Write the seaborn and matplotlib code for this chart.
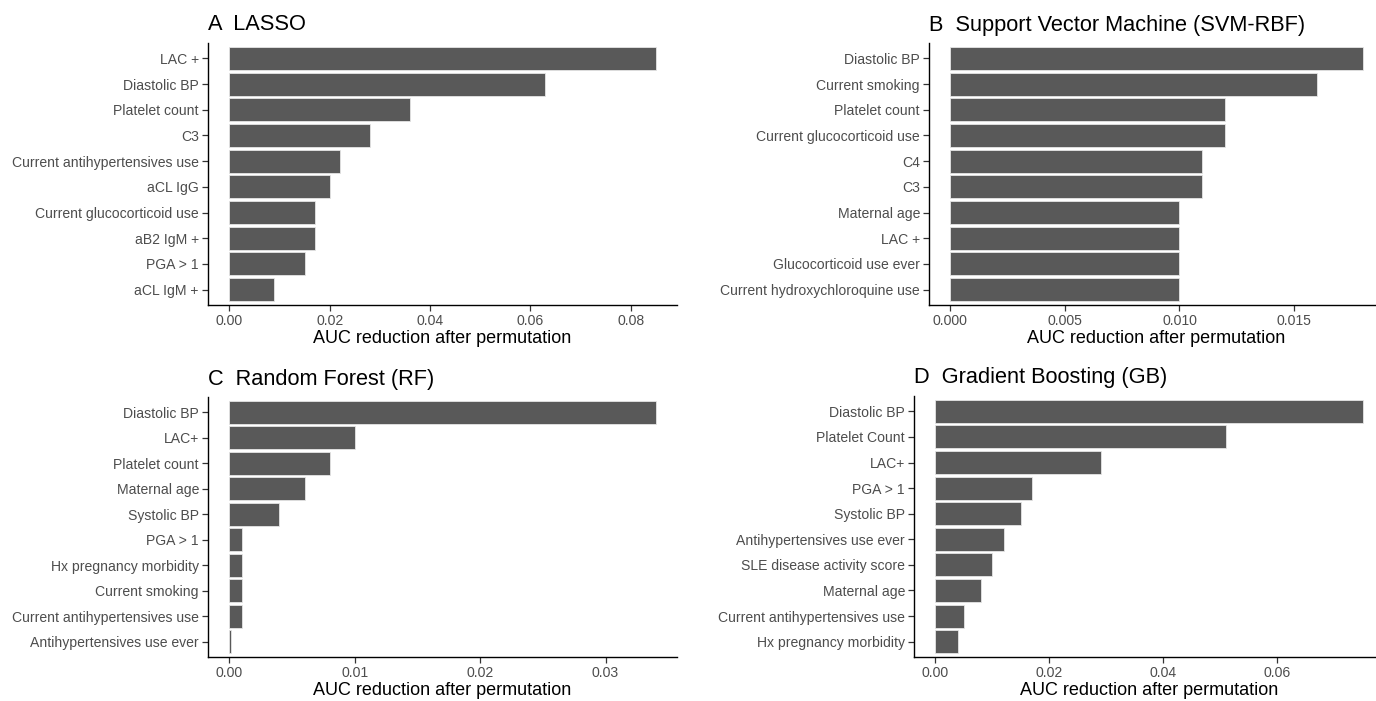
import matplotlib
matplotlib.use("Agg")
import matplotlib.pyplot as plt
import seaborn as sns
import pandas as pd
from matplotlib.ticker import FormatStrFormatter

# ---- data ----
lasso_features = ["LAC +", "Diastolic BP", "Platelet count", "C3",
                  "Current antihypertensives use", "aCL IgG",
                  "Current glucocorticoid use", "aB2 IgM +", "PGA > 1", "aCL IgM +"]
lasso_values = [0.085, 0.063, 0.036, 0.028, 0.022, 0.020, 0.017, 0.017, 0.015, 0.009]

svm_features = ["Diastolic BP", "Current smoking", "Platelet count",
                "Current glucocorticoid use", "C4", "C3", "Maternal age", "LAC +",
                "Glucocorticoid use ever", "Current hydroxychloroquine use"]
svm_values = [0.018, 0.016, 0.012, 0.012, 0.011, 0.011, 0.010, 0.010, 0.010, 0.010]

rf_features = ["Diastolic BP", "LAC+", "Platelet count", "Maternal age", "Systolic BP",
               "PGA > 1", "Hx pregnancy morbidity", "Current smoking",
               "Current antihypertensives use", "Antihypertensives use ever"]
rf_values = [0.034, 0.010, 0.008, 0.006, 0.004, 0.001, 0.001, 0.001, 0.001, 0.0001]

gb_features = ["Diastolic BP", "Platelet Count", "LAC+", "PGA > 1", "Systolic BP",
               "Antihypertensives use ever", "SLE disease activity score",
               "Maternal age", "Current antihypertensives use", "Hx pregnancy morbidity"]
gb_values = [0.075, 0.051, 0.029, 0.017, 0.015, 0.012, 0.010, 0.008, 0.005, 0.004]

titles = ["A  LASSO", "B  Support Vector Machine (SVM-RBF)",
          "C  Random Forest (RF)", "D  Gradient Boosting (GB)"]
xticks_list = [[0, 0.02, 0.04, 0.06, 0.08], [0, 0.005, 0.010, 0.015],
               [0, 0.01, 0.02, 0.03], [0, 0.02, 0.04, 0.06]]
fmts = ["%.2f", "%.3f", "%.2f", "%.2f"]
xlabel = "AUC reduction after permutation"

# ---- style ----
sns.set_theme(style="ticks")
plt.rcParams["font.family"] = ["Liberation Sans", "DejaVu Sans"]

W, H = 1376, 701
fig = plt.figure(figsize=(W / 100, H / 100), dpi=100)

# axes boxes in pixels: left, right, top, bottom
boxes = [(208, 677, 43, 305), (929, 1384, 43, 305),
         (208, 677, 397, 657), (914, 1384, 396, 657)]

datasets = [(lasso_features, lasso_values), (svm_features, svm_values),
            (rf_features, rf_values), (gb_features, gb_values)]

for (feats, vals), (l, r, t, b), title, xt, fmt in zip(datasets, boxes, titles, xticks_list, fmts):
    ax = fig.add_axes([l / W, (H - b) / H, (r - l) / W, (b - t) / H])
    df = pd.DataFrame({"feature": feats, "value": vals})
    sns.barplot(data=df, x="value", y="feature", orient="h", color="#595959",
                saturation=1, width=0.9, edgecolor="#E5E5E5", linewidth=0.6, ax=ax)
    vmax = max(vals)
    ax.set_xlim(-0.05 * vmax, 1.05 * vmax)
    ax.set_ylim(len(feats) - 0.4, -0.6)
    ax.set_xticks(xt)
    ax.xaxis.set_major_formatter(FormatStrFormatter(fmt))
    ax.set_xlabel(xlabel, fontsize=13, color="black", labelpad=1.5)
    ax.set_ylabel("")
    ax.set_title(title, loc="left", fontsize=15.7, color="black", pad=9)
    ax.tick_params(axis="both", labelsize=10.1, labelcolor="#4D4D4D", color="#333333",
                   length=4, width=0.9, pad=2.5)
    for s in ["top", "right"]:
        ax.spines[s].set_visible(False)
    for s in ["left", "bottom"]:
        ax.spines[s].set_color("black")
        ax.spines[s].set_linewidth(1.0)
    ax.set_facecolor("white")

fig.savefig("out.png", dpi=100, facecolor="white")
